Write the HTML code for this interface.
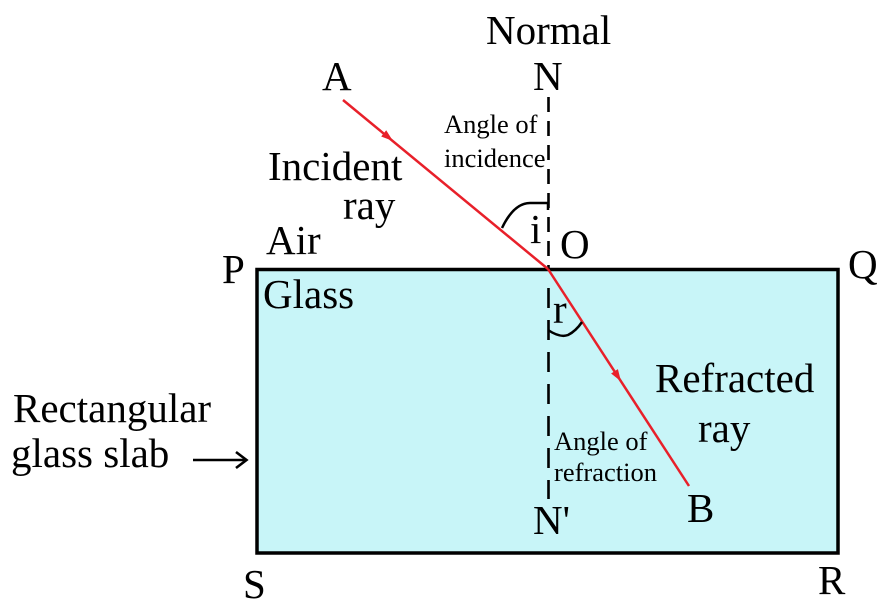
<!DOCTYPE html>
<html>
<head>
<meta charset="utf-8">
<style>
  html, body { margin: 0; padding: 0; background: #ffffff; }
  body { width: 886px; height: 612px; overflow: hidden; }
  svg { display: block; }
  text { font-family: "Liberation Serif", "DejaVu Serif", serif; fill: #000; }
  .big { font-size: 41px; }
  .small { font-size: 26.5px; }
</style>
</head>
<body>
<svg width="886" height="612" viewBox="0 0 886 612" xmlns="http://www.w3.org/2000/svg">
  <!-- Glass slab -->
  <rect x="257" y="269.5" width="581" height="283.5" fill="#c8f5f8" stroke="#000" stroke-width="3.5"/>

  <!-- Normal (dashed) upper -->
  <line x1="548.5" y1="97" x2="548.5" y2="270" stroke="#000" stroke-width="2.6" stroke-dasharray="15 9"/>
  <!-- Normal (dashed) lower -->
  <line x1="548.5" y1="288" x2="548.5" y2="499" stroke="#000" stroke-width="2.6" stroke-dasharray="20 12"/>

  <!-- Incident ray -->
  <line x1="343" y1="100" x2="548" y2="269" stroke="#e8202a" stroke-width="2.5"/>
  <polygon points="393,141 381.2,136.5 386.2,130.3" fill="#e8202a"/>

  <!-- Refracted ray -->
  <line x1="548" y1="269" x2="689" y2="486" stroke="#e8202a" stroke-width="2.5"/>
  <polygon points="621,381.4 611.1,373.5 617.9,369.1" fill="#e8202a"/>

  <!-- Angle of incidence arc -->
  <path d="M502,228 Q514,203 530,203 L548,203 L548,210" fill="none" stroke="#000" stroke-width="2.5"/>
  <!-- Angle of refraction arc -->
  <path d="M548,330 Q560,338 568,335 Q576,331 582,322" fill="none" stroke="#000" stroke-width="2.5"/>

  <!-- Slab pointer arrow -->
  <line x1="193" y1="460" x2="246" y2="460" stroke="#000" stroke-width="2.6"/>
  <path d="M236,452 L246.5,460 L236,468" fill="none" stroke="#000" stroke-width="2.6"/>

  <!-- Labels -->
  <text class="big" x="486" y="44">Normal</text>
  <text class="big" x="322" y="90">A</text>
  <text class="big" x="533" y="90">N</text>
  <text class="small" x="444" y="133">Angle of</text>
  <text class="small" x="444" y="167">incidence</text>
  <text class="big" x="268" y="180">Incident</text>
  <text class="big" x="343" y="219">ray</text>
  <text class="big" x="266" y="254">Air</text>
  <text class="big" x="530" y="243">i</text>
  <text class="big" x="560" y="258">O</text>
  <text class="big" x="222" y="283">P</text>
  <text class="big" x="263" y="308">Glass</text>
  <text class="big" x="848" y="278">Q</text>
  <text class="big" x="553" y="323">r</text>
  <text class="big" x="655" y="392">Refracted</text>
  <text class="big" x="698" y="442">ray</text>
  <text class="small" x="554" y="450">Angle of</text>
  <text class="small" x="554" y="481">refraction</text>
  <text class="big" x="687" y="522">B</text>
  <text class="big" x="533" y="534">N'</text>
  <text class="big" x="13" y="422">Rectangular</text>
  <text class="big" x="11" y="467">glass slab</text>
  <text class="big" x="243" y="598">S</text>
  <text class="big" x="818" y="594">R</text>
</svg>
</body>
</html>
